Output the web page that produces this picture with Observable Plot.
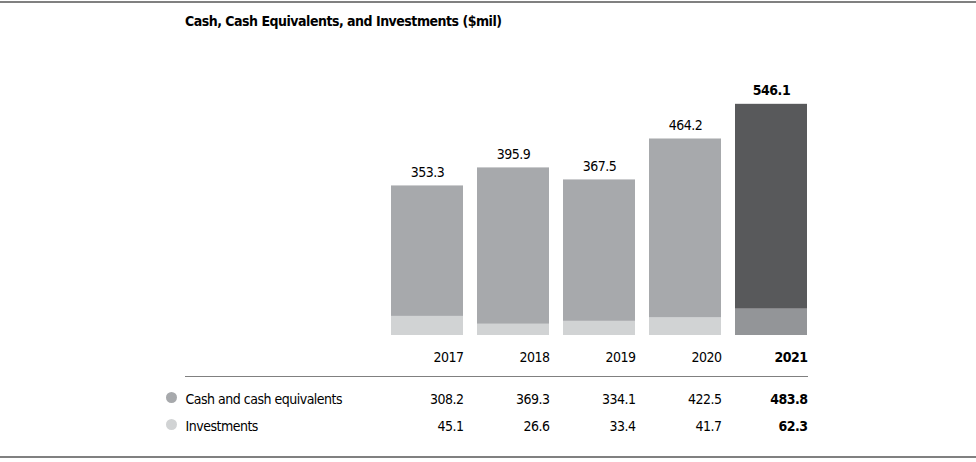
<!DOCTYPE html>
<html><head><meta charset="utf-8">
<script src="https://cdn.jsdelivr.net/npm/d3@7"></script>
<script src="https://cdn.jsdelivr.net/npm/@observablehq/plot@0.6"></script>
<style>
body{margin:0;background:#fff;font-family:"DejaVu Sans Condensed","Liberation Sans Narrow",sans-serif;}
#wrap{position:relative;width:976px;height:462px;overflow:hidden;background:#fff}
.hl{position:absolute;height:1px;background:#808080}
#title{position:absolute;left:185px;top:13px;font-weight:bold;font-size:14px;letter-spacing:-0.5px;color:#000;white-space:nowrap}
#chart svg{position:absolute;left:0;top:0}
#chart svg text{letter-spacing:-0.5px}
</style></head><body>
<div id="wrap">
  <div class="hl" style="left:0;top:1px;width:976px;height:2px"></div>
  <div id="title">Cash, Cash Equivalents, and Investments ($mil)</div>
  <div id="chart"></div>
  <div class="hl" style="left:185px;top:376px;width:623px"></div>
  <div class="hl" style="left:0;top:456px;width:976px;height:2px"></div>
</div>
<script>
const years = ["2017", "2018", "2019", "2020", "2021"];
const cash = [308.2, 369.3, 334.1, 422.5, 483.8];
const investments = [45.1, 26.6, 33.4, 41.7, 62.3];
const totals = [353.3, 395.9, 367.5, 464.2, 546.1];
const seriesNames = ["Cash and cash equivalents", "Investments"];
const seriesColors = ["#a7a9ac", "#d1d3d4"];
const highlightColors = ["#58595b", "#939598"];
const highlightYear = "2021";

const stacked = years.flatMap((year, i) => [
  {year, series: 1, value: investments[i]},
  {year, series: 0, value: cash[i]}
]);
const totalRows = years.map((year, i) => ({year, total: totals[i]}));
const tableRows = years.flatMap((year, i) => [
  {year, row: 0, value: cash[i]},
  {year, row: 1, value: investments[i]}
]);
const legendRows = seriesNames.map((name, i) => ({name, row: i, color: seriesColors[i]}));

const FONT = `"DejaVu Sans Condensed","Liberation Sans Narrow",sans-serif`;
const rowDy = [68, 95];
const isHi = d => (d.year ?? d) === highlightYear;
const split = (data, make) => [
  make(data.filter(d => !isHi(d)), "normal"),
  make(data.filter(isHi), "bold")
];

const chart = Plot.plot({
  width: 976,
  height: 462,
  marginLeft: 376,
  marginRight: 154,
  marginTop: 81,
  marginBottom: 127,
  style: {fontFamily: FONT, background: "transparent"},
  x: {domain: years, padding: 0.165, axis: null},
  y: {domain: [0, 600], axis: null},
  color: {type: "identity"},
  marks: [
    Plot.barY(stacked, {
      x: "year", y: "value", z: "series", order: [1, 0],
      fill: d => d.year === highlightYear ? highlightColors[d.series] : seriesColors[d.series]
    }),
    ...split(totalRows, (data, w) => Plot.text(data, {
      x: "year", y: "total", text: d => d.total.toFixed(1),
      lineAnchor: "bottom", dy: -9, fontSize: 14, fill: "#000", fontWeight: w
    })),
    ...split(years, (data, w) => Plot.text(data, {
      x: d => d, text: d => d, frameAnchor: "bottom", lineAnchor: "bottom",
      textAnchor: "end", dx: 36, dy: 26, fontSize: 14, fill: "#000", fontWeight: w
    })),
    ...[0, 1].flatMap(r => split(tableRows.filter(d => d.row === r), (data, w) => Plot.text(data, {
      x: "year", text: d => d.value.toFixed(1), frameAnchor: "bottom", lineAnchor: "bottom",
      textAnchor: "end", dx: 36, dy: rowDy[r], fontSize: 14, fill: "#000", fontWeight: w
    }))),
    ...legendRows.map(l => Plot.text([l], {
      text: "name", frameAnchor: "bottom-left", lineAnchor: "bottom", textAnchor: "start",
      dx: -191, dy: rowDy[l.row], fontSize: 14, fill: "#000"
    })),
    ...legendRows.map(l => Plot.dot([l], {
      frameAnchor: "bottom-left", dx: -205, dy: rowDy[l.row] - 6, r: 5.5,
      fill: "color", stroke: null
    }))
  ]
});
document.getElementById("chart").appendChild(chart);
</script>
</body></html>
